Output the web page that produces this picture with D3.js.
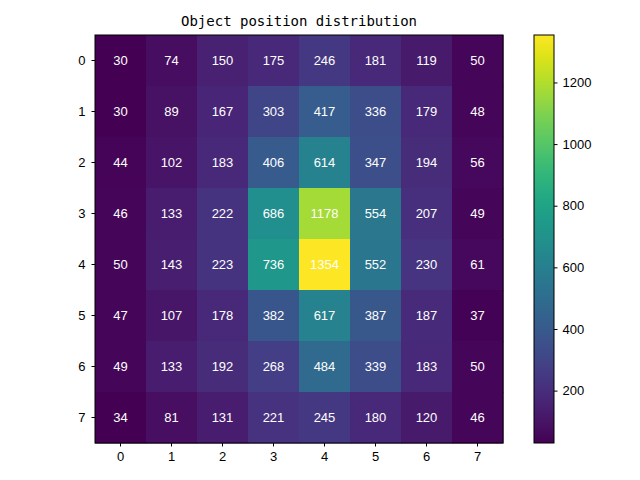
<!DOCTYPE html>
<html>
<head>
<meta charset="utf-8">
<script src="https://cdn.jsdelivr.net/npm/d3@7"></script>
<style>
  body { margin: 0; background: #fff; }
  text { font-family: "DejaVu Sans Mono", monospace; fill: #000; }
</style>
</head>
<body>
<div id="vizcontainer"></div>
<script>
var title = 'Object position distribution';
var rowLabels = ['0','1','2','3','4','5','6','7'];
var colLabels = ['0','1','2','3','4','5','6','7'];
var row0 = [30, 74, 150, 175, 246, 181, 119, 50];
var row1 = [30, 89, 167, 303, 417, 336, 179, 48];
var row2 = [44, 102, 183, 406, 614, 347, 194, 56];
var row3 = [46, 133, 222, 686, 1178, 554, 207, 49];
var row4 = [50, 143, 223, 736, 1354, 552, 230, 61];
var row5 = [47, 107, 178, 382, 617, 387, 187, 37];
var row6 = [49, 133, 192, 268, 484, 339, 183, 50];
var row7 = [34, 81, 131, 221, 245, 180, 120, 46];
var rows = [row0, row1, row2, row3, row4, row5, row6, row7];
var cbTicks = [200, 400, 600, 800, 1000, 1200];

var width = 640, height = 480;
var plot = { left: 95, top: 35, size: 408 };
var cb = { left: 534, width: 20 };
var numFont = '"Liberation Sans", Arial, sans-serif';

var svg = d3.select('#vizcontainer').append('svg')
    .attr('width', width)
    .attr('height', height);

var cells = [];
rows.forEach(function (r, i) {
  r.forEach(function (v, j) {
    cells.push({ row: rowLabels[i], col: colLabels[j], value: v });
  });
});

var all = d3.merge(rows);
var vmin = d3.min(all), vmax = d3.max(all);
var color = d3.scaleSequential(d3.interpolateViridis).domain([vmin, vmax]);

var x = d3.scaleBand().domain(colLabels).range([plot.left, plot.left + plot.size]);
var y = d3.scaleBand().domain(rowLabels).range([plot.top, plot.top + plot.size]);

svg.append('g')
  .selectAll('rect')
    .data(cells)
    .enter()
  .append('rect')
    .attr('x', function (d) { return x(d.col) })
    .attr('y', function (d) { return y(d.row) })
    .attr('width', x.bandwidth() + 0.5)
    .attr('height', y.bandwidth() + 0.5)
    .attr('fill', function (d) { return color(d.value) })

svg.append('g')
  .selectAll('text')
    .data(cells)
    .enter()
  .append('text')
    .attr('x', function (d) { return x(d.col) + x.bandwidth() / 2 })
    .attr('y', function (d) { return y(d.row) + y.bandwidth() / 2 })
    .attr('text-anchor', 'middle')
    .attr('dominant-baseline', 'central')
    .style('fill', '#fff')
    .style('font-size', '13px')
    .style('font-family', numFont)
    .text(function (d) { return d.value })

svg.append('rect')
  .attr('x', plot.left).attr('y', plot.top)
  .attr('width', plot.size).attr('height', plot.size)
  .attr('fill', 'none').attr('stroke', '#000').attr('stroke-width', 1)

var xAxis = svg.append('g')
  .attr('transform', 'translate(0,' + (plot.top + plot.size) + ')')
  .call(d3.axisBottom(x).tickSize(3.5).tickPadding(5))
var yAxis = svg.append('g')
  .attr('transform', 'translate(' + plot.left + ',0)')
  .call(d3.axisLeft(y).tickSize(3.5).tickPadding(6))

// colorbar
var cbScale = d3.scaleLinear().domain([vmin, vmax]).range([plot.top + plot.size, plot.top]);
var defs = svg.append('defs');
var grad = defs.append('linearGradient')
  .attr('id', 'cbgrad')
  .attr('x1', '0%').attr('y1', '100%')
  .attr('x2', '0%').attr('y2', '0%');
d3.range(0, 1.0001, 0.05).forEach(function (t) {
  grad.append('stop')
    .attr('offset', (t * 100) + '%')
    .attr('stop-color', d3.interpolateViridis(t));
});
svg.append('rect')
  .attr('x', cb.left).attr('y', plot.top)
  .attr('width', cb.width).attr('height', plot.size)
  .attr('fill', 'url(#cbgrad)')
  .attr('stroke', '#000').attr('stroke-width', 1)

var cbAxis = svg.append('g')
  .attr('transform', 'translate(' + (cb.left + cb.width) + ',0)')
  .call(d3.axisRight(cbScale).tickValues(cbTicks).tickFormat(d3.format('d')).tickSize(3.5).tickPadding(5))

;[xAxis, yAxis, cbAxis].forEach(function (a) {
  a.select('.domain').remove();
  a.selectAll('text').style('font-size', '13px').style('font-family', numFont);
});

svg.append('text')
  .attr('x', plot.left + plot.size / 2)
  .attr('y', 26)
  .attr('text-anchor', 'middle')
  .style('font-size', '14px')
  .text(title)
</script>
</body>
</html>
